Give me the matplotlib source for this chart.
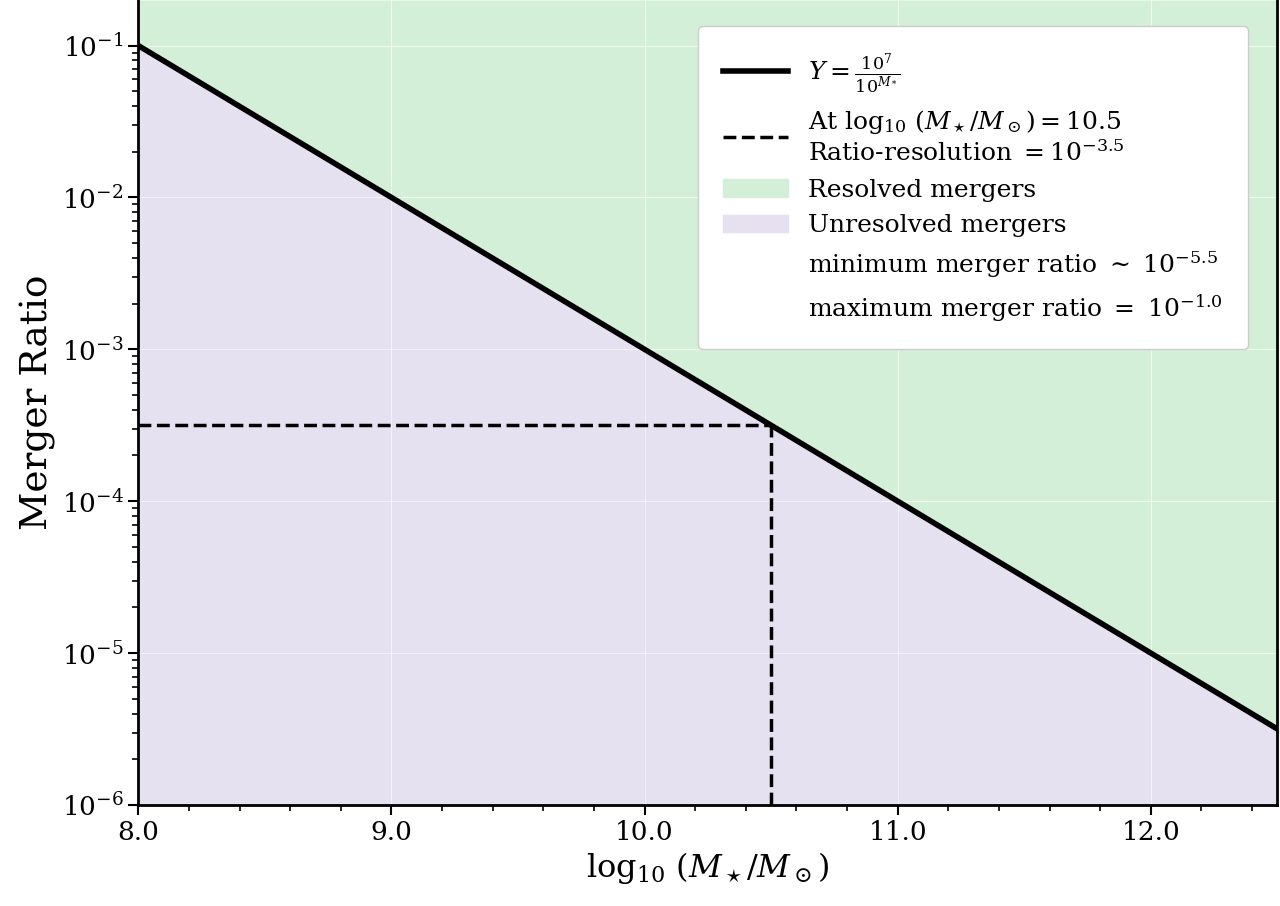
import numpy as np
import matplotlib
matplotlib.use('Agg')
import matplotlib.pyplot as plt
from matplotlib.lines import Line2D
from matplotlib.patches import Patch

# limit line Y = 10^7 / 10^M (end points)
line_x = [8.0, 12.5]
line_y = [1e-1, 10**-5.5]

# resolution cut
cut_x = 10.5
cut_y = 10**-3.5

x_lim = [8.0, 12.5]
y_lim = [1e-6, 10**-0.7]
x_ticks = [8.0, 9.0, 10.0, 11.0, 12.0]

plt.rcParams['font.family'] = 'DejaVu Serif'
plt.rcParams['mathtext.fontset'] = 'dejavuserif'

fig = plt.figure(figsize=(12.8, 9.06), dpi=100)
ax = fig.add_axes([0.108, 0.1115, 0.89, 0.8885])

green = '#d4efd7'
purple = '#e5e1f1'

ax.fill_between(line_x, line_y, y_lim[1], color=green, lw=0)
ax.fill_between(line_x, y_lim[0], line_y, color=purple, lw=0)
ax.plot(line_x, line_y, color='black', lw=4)
ax.plot([x_lim[0], cut_x], [cut_y, cut_y], 'k--', lw=2.5)
ax.plot([cut_x, cut_x], [y_lim[0], cut_y], 'k--', lw=2.5)

ax.set_yscale('log')
ax.set_xlim(x_lim)
ax.set_ylim(y_lim)
ax.set_xticks(x_ticks)
ax.set_xticklabels(['%.1f' % v for v in x_ticks])
ax.xaxis.set_minor_locator(matplotlib.ticker.MultipleLocator(0.2))
ax.grid(True, which='major', color='white', lw=0.8, alpha=0.6)
ax.tick_params(which='major', labelsize=19, length=7, width=1.5)
ax.tick_params(which='minor', length=4, width=1.2)
for s in ax.spines.values():
    s.set_linewidth(2)
ax.spines['top'].set_visible(False)

ax.set_xlabel(r'$\log_{10}\,(M_\star/M_\odot)$', fontsize=23)
ax.set_ylabel('Merger Ratio', fontsize=27)

handles = [
    Line2D([], [], color='black', lw=4),
    Line2D([], [], color='black', lw=2.5, ls='--'),
    Patch(color=green),
    Patch(color=purple),
    Line2D([], [], color='none'),
    Line2D([], [], color='none'),
]
labels = [
    r'$Y = \frac{10^7}{10^{M_*}}$',
    'At $\\log_{10}\\,(M_\\star/M_\\odot) = 10.5$\nRatio-resolution $= 10^{-3.5}$',
    'Resolved mergers',
    'Unresolved mergers',
    r'minimum merger ratio $\sim\ 10^{-5.5}$',
    r'maximum merger ratio $=\ 10^{-1.0}$',
]
ax.legend(handles, labels, loc='upper right', fontsize=18, framealpha=1,
          borderpad=1.0, labelspacing=0.5, handlelength=2.6,
          bbox_to_anchor=(0.985, 0.983))

fig.savefig('out.png', dpi=100)
